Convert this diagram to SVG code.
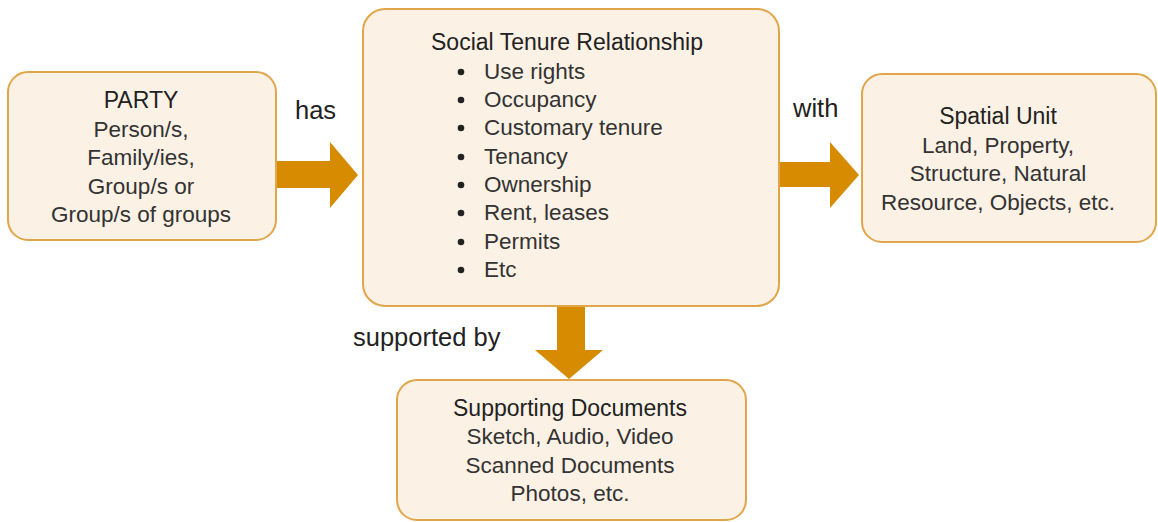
<svg xmlns="http://www.w3.org/2000/svg" width="1158" height="522" viewBox="0 0 1158 522">
<style>
.box{fill:#fbf1e4;stroke:#e2a64a;stroke-width:2}
.arr{fill:#d68b00}
text{font-family:"Liberation Sans",Arial,sans-serif;font-size:22.5px;fill:#333}
.t{fill:#222;font-size:23px}
.l{font-size:25.5px;fill:#222}
.c{text-anchor:middle}
</style>
<rect width="1158" height="522" fill="#fff"/>
<g id="connectors">
<polygon class="arr" points="277,161 330,161 330,142 358,175 330,208 330,188 277,188"/>
<polygon class="arr" points="779,162 830,162 830,142 859,175 830,208 830,187 779,187"/>
<polygon class="arr" points="557,306 585,306 585,350 603,350 569,379 535,350 557,350"/>
<text class="l" x="295" y="119">has</text>
<text class="l" x="793" y="117">with</text>
<text class="l" x="353" y="346">supported by</text>
</g>
<g id="party">
<rect class="box" x="8" y="72" width="268" height="168" rx="20"/>
<text class="c t" x="141" y="108">PARTY</text>
<text class="c" x="141" y="137">Person/s,</text>
<text class="c" x="141" y="165">Family/ies,</text>
<text class="c" x="141" y="194">Group/s or</text>
<text class="c" x="141" y="222">Group/s of groups</text>
</g>
<g id="str">
<rect class="box" x="363" y="9" width="416" height="297" rx="22"/>
<text class="c t" x="567" y="50">Social Tenure Relationship</text>
<g>
<circle cx="461" cy="72" r="3.3" fill="#222"/>
<circle cx="461" cy="100" r="3.3" fill="#222"/>
<circle cx="461" cy="128" r="3.3" fill="#222"/>
<circle cx="461" cy="157" r="3.3" fill="#222"/>
<circle cx="461" cy="185" r="3.3" fill="#222"/>
<circle cx="461" cy="213" r="3.3" fill="#222"/>
<circle cx="461" cy="242" r="3.3" fill="#222"/>
<circle cx="461" cy="270" r="3.3" fill="#222"/>
</g>
<text x="484" y="79">Use rights</text>
<text x="484" y="107">Occupancy</text>
<text x="484" y="135">Customary tenure</text>
<text x="484" y="164">Tenancy</text>
<text x="484" y="192">Ownership</text>
<text x="484" y="220">Rent, leases</text>
<text x="484" y="249">Permits</text>
<text x="484" y="277">Etc</text>
</g>
<g id="spatial">
<rect class="box" x="862" y="74" width="294" height="168" rx="20"/>
<text class="c t" x="998" y="124">Spatial Unit</text>
<text class="c" x="998" y="153">Land, Property,</text>
<text class="c" x="998" y="181">Structure, Natural</text>
<text class="c" x="998" y="210">Resource, Objects, etc.</text>
</g>
<g id="docs">
<rect class="box" x="397" y="380" width="349" height="140" rx="20"/>
<text class="c t" x="570" y="416">Supporting Documents</text>
<text class="c" x="570" y="444">Sketch, Audio, Video</text>
<text class="c" x="570" y="473">Scanned Documents</text>
<text class="c" x="570" y="501">Photos, etc.</text>
</g>
</svg>
